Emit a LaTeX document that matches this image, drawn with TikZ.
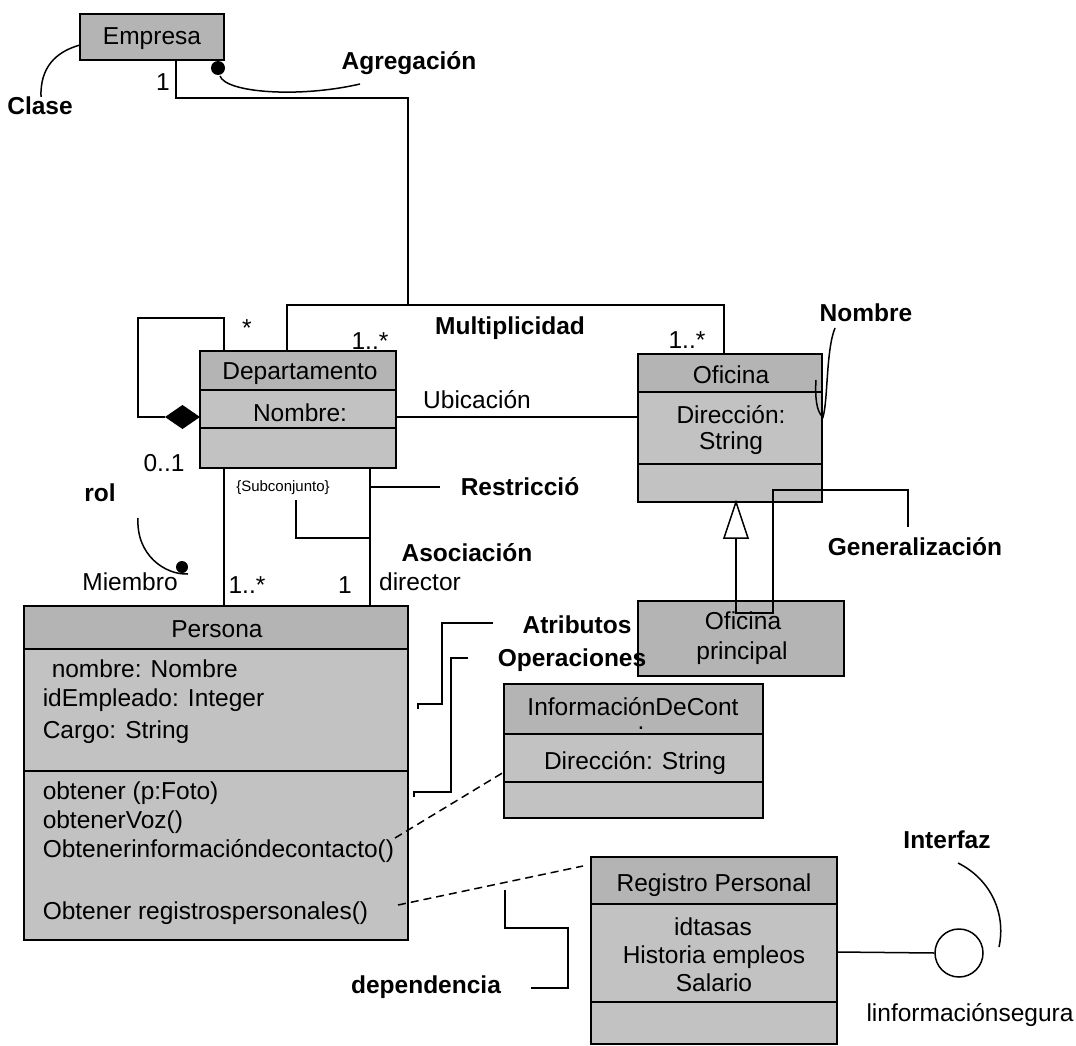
\documentclass[tikz,border=0pt]{standalone}
\usepackage{fontspec}
\setmainfont{Liberation Sans}
\usetikzlibrary{calc,fit}
\definecolor{hdrc}{RGB}{180,180,180}
\definecolor{bodyc}{RGB}{194,194,194}
\newcommand\UMLbox[7]{%
  \fill[bodyc] (#2,#3) rectangle (#4,#5);
  \fill[hdrc] (#2,#3) rectangle (#4,#6);
  \draw (#2,#6) -- (#4,#6);
  \draw (#2,#7) -- (#4,#7);
  \draw (#2,#3) rectangle (#4,#5);
  \node[inner sep=0pt, outer sep=0pt, fit={(#2,#3) (#4,#5)}] (#1) {};
}
\newcommand\UMLsingle[5]{%
  \fill[hdrc] (#2,#3) rectangle (#4,#5);
  \draw (#2,#3) rectangle (#4,#5);
  \node[inner sep=0pt, outer sep=0pt, fit={(#2,#3) (#4,#5)}] (#1) {};
}
\begin{document}
\begin{tikzpicture}[x=1pt,y=-1pt,line width=1.5pt,
  t/.style={font=\fontsize{24.5}{28}\selectfont, inner sep=0pt, anchor=base, yshift=-8pt},
  tl/.style={t, anchor=base west},
  lbl/.style={t, font=\fontsize{24.5}{28}\selectfont\bfseries},
  dep/.style={dash pattern=on 8pt off 5pt, line width=1.5pt}]
\useasboundingbox (0,0) rectangle (1076,1046);

% ---------- classes ----------
\UMLsingle{emp}{80}{14}{224}{60}
\UMLbox{dep}{200}{351}{396}{468}{390}{428}
\UMLbox{ofi}{638}{354}{822}{502}{392}{464}
\UMLsingle{ofp}{638}{601}{844}{676}
\UMLbox{per}{24}{606}{408}{940}{649}{771}
\UMLbox{info}{504}{684}{763}{818}{734}{782}
\UMLbox{reg}{591}{857}{837}{1044}{904}{1002}

% ---------- class texts ----------
\node[t] (tEmp) at (152,37) {Empresa};
\node[t] (tDep) at (300,371) {Departamento};
\node[t] (tDepA) at (300,413) {Nombre:};
\node[t] (tOfi) at (731,375) {Oficina};
\node[t] (tOfiA) at (731,415) {Dirección:};
\node[t] (tOfiB) at (731,441) {String};
\node[t] (tOfp) at (743,621) {Oficina};
\node[t] (tOfpB) at (742,651) {principal};
\node[t] (tPer) at (217,629) {Persona};
\node[tl] (pa1) at (51,669) {nombre: Nombre};
\node[tl] (pa2) at (42,698) {idEmpleado: Integer};
\node[tl] (pa3) at (42,730) {Cargo: String};
\node[tl] (po1) at (42,791) {obtener (p:Foto)};
\node[tl] (po2) at (42,820) {obtenerVoz()};
\node[tl] (po3) at (42,849) {Obtenerinformacióndecontacto()};
\node[tl] (po4) at (42,911) {Obtener registrospersonales()};
\node[t, align=center, font=\fontsize{24.5}{14}\selectfont] (tInfo) at (633,721) {InformaciónDeCont\\\hspace*{16pt}.};
\node[t] (tInfoA) at (635,761) {Dirección: String};
\node[t] (tReg) at (714,883) {Registro Personal};
\node[t] (tReg1) at (713,927) {idtasas};
\node[t] (tReg2) at (714,955) {Historia empleos};
\node[t] (tReg3) at (714,983) {Salario};

% ---------- relationships ----------
\coordinate (jA) at (408,305);
\draw ($(emp.south west)+(96,0)$) |- (408,98) -- (jA);
\draw ($(dep.north west)+(87,0)$) |- (jA) -| ($(ofi.north west)+(86,0)$);
\node[t] (m1) at (163,83) {1};
\node[t] (m2) at (370,341) {1..*};
\node[t] (m3) at (687,340) {1..*};

% self composition of Departamento
\draw ($(dep.north west)+(24,0)$) |- (138,318) |- (165,417);
\fill (165,417) -- (182.5,405) -- ($(dep.north west)+(0,66)$) -- (182.5,429) -- cycle;
\node[inner sep=0pt, anchor=base, font=\fontsize{24.5}{28}\selectfont] (m4) at (247,336) {*};
\node[t] (m5) at (164,463) {0..1};

% Ubicacion
\draw ($(dep.north east)+(0,66)$) -- ($(ofi.north west)+(0,63)$);
\node[t] (tUb) at (477,400) {Ubicación};

% Departamento - Persona
\draw ($(dep.south west)+(24,0)$) -- ($(per.north west)+(200,0)$);
\draw ($(dep.south west)+(170,0)$) -- ($(per.north west)+(346,0)$);
\node[t] (m6) at (247,585) {1..*};
\node[t] (m7) at (345,585) {1};
\node[t] (tDir) at (420,582) {director};
\node[t] (tMie) at (130,582) {Miembro};
\node[inner sep=0pt, font=\fontsize{15}{18}\selectfont] (tSub) at (283,488) {\{Subconjunto\}};

% Generalization
\draw[fill=white] ($(ofi.south west)+(98,0)$) -- (724,538) -- (748,538) -- cycle;
\draw (736,538) -- (736,613) -| (773,490) -| (908,527);

% Interface
\node[draw, circle, minimum size=48pt, inner sep=0pt] (iface) at (959,953) {};
\draw ($(reg.north east)+(0,95)$) -- (iface.west);
\node[t] (tIf) at (970,1013) {linformaciónsegura};

% dependencies
\coordinate (d1) at (395,838);
\coordinate (d2) at (504,772);
\draw[dep] (d1) -- (d2);
\coordinate (d3) at (398,905);
\coordinate (d4) at (583,866);
\draw[dep] (d3) -- (d4);

% ---------- annotations ----------
\node[lbl] (lClase) at (40,107) {Clase};
\draw (emp.west |- 0,45) .. controls (55,52) and (40,68) .. (41,97);

\node[lbl] (lAgr) at (409,62) {Agregación};
\fill (218,68) circle (7);
\draw (220,76) .. controls (226,93) and (300,98) .. (360,84);

\node[lbl] (lMul) at (510,326) {Multiplicidad};

\node[lbl] (lNom) at (866,313) {Nombre};
\draw (835,328) .. controls (826,350) and (828,400) .. (823,417)
      .. controls (816,412) and (815,395) .. (816,380);

\node[lbl] (lRes) at (520,487) {Restricció};
\draw (370,487) -- (440,487);
\draw (296,500) |- (370,538);

\node[lbl] (lRol) at (100,493) {rol};
\draw (138,518) .. controls (136,555) and (165,575) .. (188,574);
\fill (182,567) circle (6);

\node[lbl] (lAso) at (467,553) {Asociación};

\node[lbl] (lGen) at (915,547) {Generalización};

\draw (493,623) -- (442,623) -- (442,704) -- (418,704) -- (418,709);
\draw (468,658) -- (451,658) -- (451,792) -- (414,792) -- (414,797);
\node[lbl] (lAtr) at (577,625) {Atributos};
\node[lbl] (lOpe) at (572,658) {Operaciones};

\node[lbl] (lDep) at (426,985) {dependencia};
\draw (531,988) -| (568,928) -| (505,890);

\node[lbl] (lInt) at (947,840) {Interfaz};
\draw (958,863) .. controls (992,880) and (1006,915) .. (999,947);
\end{tikzpicture}
\end{document}
